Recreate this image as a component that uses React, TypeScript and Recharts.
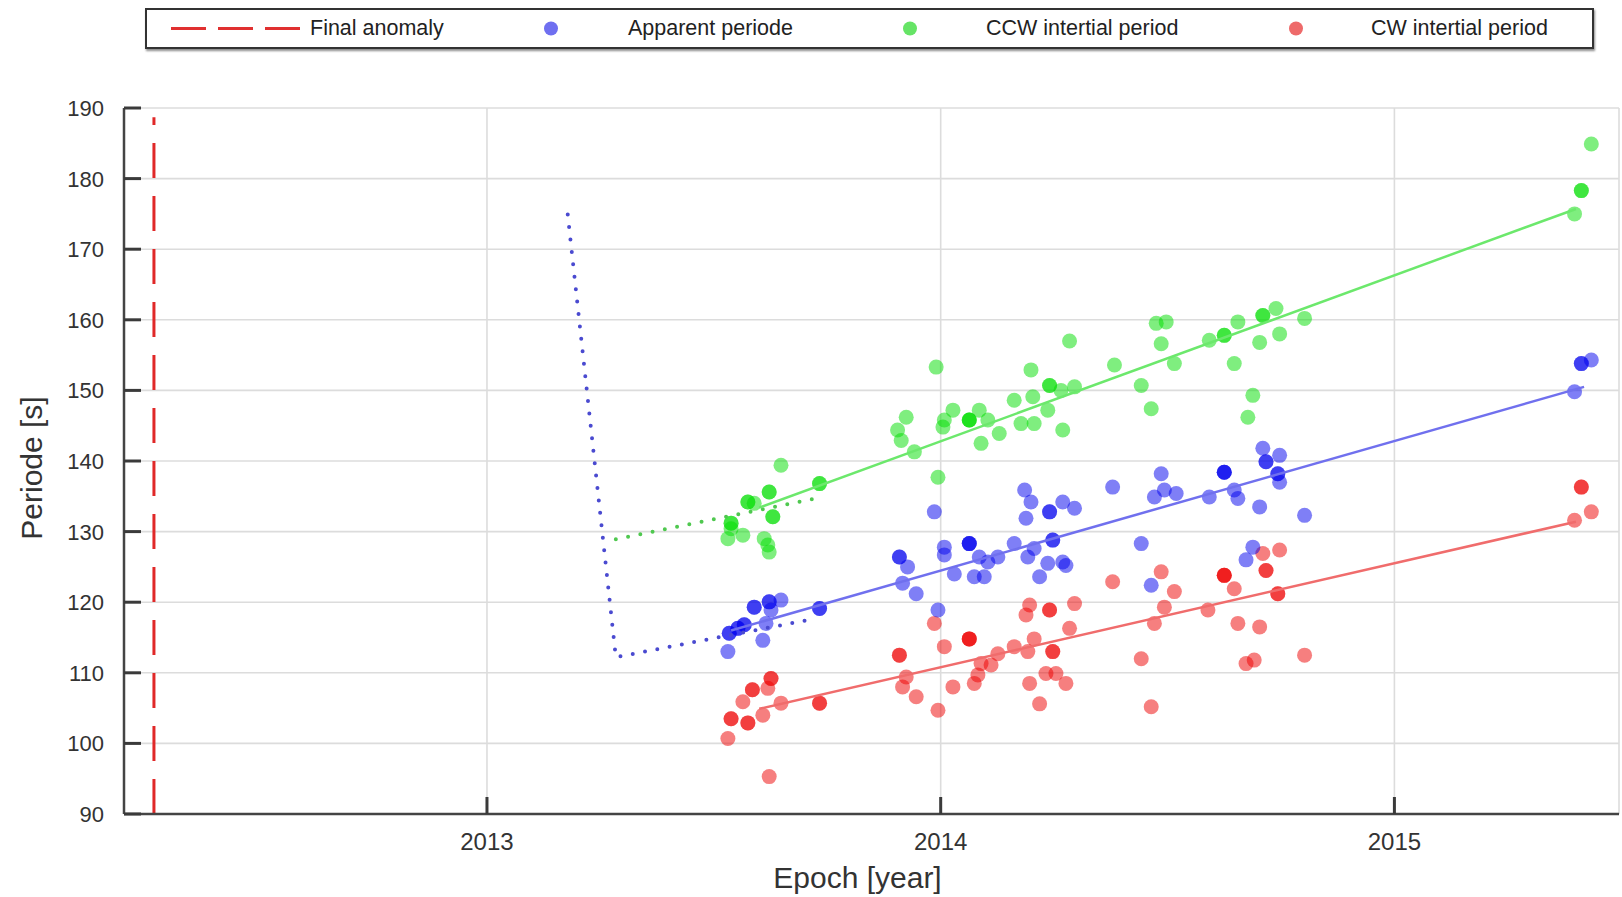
import {
  ScatterChart,
  Scatter,
  XAxis,
  YAxis,
  CartesianGrid,
  ReferenceLine,
  Legend,
  Label,
} from 'recharts';

const FONT = '"Liberation Sans", Arial, Helvetica, sans-serif';

const xTicks = [2013, 2014, 2015];
const yTicks = [90, 100, 110, 120, 130, 140, 150, 160, 170, 180, 190];

// final anomaly marker
const anomalyEpoch = 2012.266;
const anomalyTop = 188.7;

// [epoch, periode] - repeated entries are stacked observations (darker dots)
const apparentPeriode: [number, number][] = [
  [2013.648, 120.3], [2013.622, 120.05], [2013.622, 120.05], [2013.589, 119.3], [2013.589, 119.3],
  [2013.626, 118.9], [2013.733, 119.1], [2013.733, 119.1], [2013.567, 116.8], [2013.567, 116.8],
  [2013.553, 116.3], [2013.553, 116.3], [2013.534, 115.6], [2013.534, 115.6], [2013.615, 117.0],
  [2013.608, 114.6], [2013.531, 113.0], [2013.909, 126.4], [2013.909, 126.4], [2013.927, 125.0],
  [2013.916, 122.7], [2013.946, 121.2], [2014.008, 127.8], [2014.008, 126.7], [2013.994, 118.9],
  [2014.185, 135.9], [2014.199, 134.2], [2014.379, 136.3], [2013.986, 132.8], [2014.24, 132.8],
  [2014.24, 132.8], [2014.269, 134.2], [2014.295, 133.3], [2014.188, 131.9], [2014.063, 128.3],
  [2014.063, 128.3], [2014.063, 128.3], [2014.162, 128.3], [2014.206, 127.6], [2014.247, 128.8],
  [2014.247, 128.8], [2014.085, 126.4], [2014.126, 126.4], [2014.104, 125.7], [2014.192, 126.4],
  [2014.236, 125.5], [2014.269, 125.7], [2014.276, 125.2], [2014.03, 124.0], [2014.074, 123.6],
  [2014.096, 123.6], [2014.218, 123.6], [2014.486, 138.2], [2014.471, 134.9], [2014.493, 135.9],
  [2014.519, 135.4], [2014.625, 138.4], [2014.625, 138.4], [2014.625, 138.4], [2014.71, 141.8],
  [2014.747, 140.8], [2014.717, 139.9], [2014.717, 139.9], [2014.743, 138.2], [2014.743, 138.2],
  [2014.747, 137.0], [2014.592, 134.9], [2014.647, 135.9], [2014.655, 134.7], [2014.703, 133.5],
  [2014.802, 132.3], [2014.442, 128.3], [2014.464, 122.4], [2014.688, 127.8], [2014.673, 126.0],
  [2015.412, 153.8], [2015.412, 153.8], [2015.434, 154.3], [2015.397, 149.8],
];

const ccwPeriod: [number, number][] = [
  [2013.648, 139.4], [2013.733, 136.8], [2013.733, 136.8], [2013.622, 135.6], [2013.622, 135.6],
  [2013.575, 134.2], [2013.575, 134.2], [2013.589, 134.0], [2013.63, 132.1], [2013.63, 132.1],
  [2013.538, 131.2], [2013.538, 131.2], [2013.538, 130.4], [2013.531, 129.0], [2013.564, 129.5],
  [2013.611, 129.0], [2013.619, 128.1], [2013.622, 127.1], [2013.942, 141.3], [2013.994, 137.7],
  [2014.284, 157.0], [2013.99, 153.3], [2014.199, 152.9], [2014.383, 153.6], [2014.24, 150.7],
  [2014.24, 150.7], [2014.265, 150.0], [2014.295, 150.5], [2014.162, 148.6], [2014.203, 149.1],
  [2013.924, 146.2], [2014.027, 147.2], [2014.085, 147.2], [2014.008, 145.8], [2014.063, 145.8],
  [2014.063, 145.8], [2014.063, 145.8], [2014.104, 145.8], [2014.236, 147.2], [2014.177, 145.3],
  [2014.206, 145.3], [2013.905, 144.4], [2013.913, 142.9], [2014.005, 144.8], [2014.089, 142.5],
  [2014.129, 143.9], [2014.269, 144.4], [2014.475, 159.5], [2014.497, 159.7], [2014.486, 156.6],
  [2014.515, 153.8], [2014.442, 150.7], [2014.464, 147.4], [2014.592, 157.1], [2014.625, 157.8],
  [2014.625, 157.8], [2014.655, 159.7], [2014.71, 160.6], [2014.71, 160.6], [2014.739, 161.6],
  [2014.802, 160.2], [2014.703, 156.8], [2014.747, 158.0], [2014.647, 153.8], [2014.688, 149.3],
  [2014.677, 146.2], [2015.434, 184.9], [2015.412, 178.3], [2015.412, 178.3], [2015.397, 175.0],
];

const cwPeriod: [number, number][] = [
  [2013.626, 109.2], [2013.626, 109.2], [2013.585, 107.6], [2013.585, 107.6], [2013.619, 107.8],
  [2013.564, 105.9], [2013.648, 105.7], [2013.733, 105.7], [2013.733, 105.7], [2013.538, 103.5],
  [2013.538, 103.5], [2013.575, 102.9], [2013.575, 102.9], [2013.608, 104.0], [2013.531, 100.7],
  [2013.622, 95.3], [2013.909, 112.5], [2013.909, 112.5], [2013.924, 109.4], [2013.916, 108.0],
  [2013.946, 106.6], [2013.986, 117.0], [2014.008, 113.7], [2013.994, 104.7], [2014.063, 114.8],
  [2014.063, 114.8], [2014.063, 114.8], [2014.196, 119.6], [2014.188, 118.2], [2014.24, 118.9],
  [2014.24, 118.9], [2014.295, 119.8], [2014.379, 122.9], [2014.284, 116.3], [2014.206, 114.8],
  [2014.162, 113.7], [2014.192, 113.0], [2014.247, 113.0], [2014.247, 113.0], [2014.126, 112.7],
  [2014.089, 111.3], [2014.111, 111.1], [2014.082, 109.7], [2014.074, 108.5], [2014.027, 108.0],
  [2014.196, 108.5], [2014.232, 109.9], [2014.254, 109.9], [2014.276, 108.5], [2014.218, 105.6],
  [2014.486, 124.3], [2014.515, 121.5], [2014.493, 119.3], [2014.471, 117.0], [2014.442, 112.0],
  [2014.464, 105.2], [2014.589, 118.9], [2014.625, 123.8], [2014.625, 123.8], [2014.625, 123.8],
  [2014.647, 121.9], [2014.71, 126.9], [2014.747, 127.4], [2014.717, 124.5], [2014.717, 124.5],
  [2014.743, 121.2], [2014.743, 121.2], [2014.655, 117.0], [2014.703, 116.5], [2014.673, 111.3],
  [2014.691, 111.8], [2014.802, 112.5], [2015.412, 136.3], [2015.412, 136.3], [2015.434, 132.8],
  [2015.397, 131.6],
];

// fitted trends
const apparentFit: [number, number][] = [[2013.538, 116.0], [2015.418, 150.5]];
const ccwFit: [number, number][] = [[2013.6, 133.4], [2015.4, 175.7]];
const cwFit: [number, number][] = [[2013.6, 104.9], [2015.4, 131.4]];

// dotted early branches
const apparentDotted: [number, number][] = [[2013.178, 174.9], [2013.284, 112.2], [2013.725, 117.7]];
const ccwDotted: [number, number][] = [[2013.284, 128.9], [2013.733, 134.8]];

const pts = (a: [number, number][]) => a.map(([x, y]) => ({ x, y }));

const dot = (color: string) => (props: any) =>
  <circle cx={props.cx} cy={props.cy} r={7.5} fill={color} fillOpacity={0.5} />;

const noDot = () => <g />;

const TICK_GAP_Y = 20;
const TICK_GAP_X = 19;
const TICK_LEN = 17;

function YTick(props: any) {
  const { x, y, payload } = props;
  const ax = x + TICK_GAP_Y;
  return (
    <g>
      <line x1={ax} x2={ax + TICK_LEN} y1={y} y2={y} stroke="#3a3a3a" strokeWidth={3} />
      <text x={x} y={y} dy="0.36em" textAnchor="end" fontFamily={FONT} fontSize={22} fill="#333">
        {payload.value}
      </text>
    </g>
  );
}

function XTick(props: any) {
  const { x, y, payload } = props;
  const ay = y - TICK_GAP_X;
  return (
    <g>
      <line x1={x} x2={x} y1={ay} y2={ay - TICK_LEN} stroke="#3a3a3a" strokeWidth={3} />
      <text x={x} y={y} dy="0.72em" textAnchor="middle" fontFamily={FONT} fontSize={24} fill="#333">
        {payload.value}
      </text>
    </g>
  );
}

const legendItems = [
  { label: 'Apparent periode', color: '#6f6ff0', dotX: 404, textX: 481 },
  { label: 'CCW intertial period', color: '#66e466', dotX: 763, textX: 839 },
  { label: 'CW intertial period', color: '#ee6a6a', dotX: 1149, textX: 1224 },
];

function LegendBox() {
  return (
    <div
      style={{
        position: 'relative',
        width: 1449,
        height: 41,
        boxSizing: 'border-box',
        border: '2px solid #333',
        background: '#fff',
        boxShadow: '1px 2px 2px rgba(0,0,0,0.45)',
        fontFamily: FONT,
        fontSize: 21.5,
        color: '#222',
      }}
    >
      <svg style={{ position: 'absolute', left: 24, top: 0 }} width={132} height={37}>
        <line x1={0} x2={129} y1={18.5} y2={18.5} stroke="#e03030" strokeWidth={3} strokeDasharray="35 12" />
      </svg>
      <span style={{ position: 'absolute', left: 163, top: 0, lineHeight: '37px', whiteSpace: 'nowrap' }}>
        Final anomaly
      </span>
      {legendItems.map((it) => (
        <div key={it.label}>
          <svg style={{ position: 'absolute', left: it.dotX - 8, top: 10 }} width={16} height={17}>
            <circle cx={8} cy={8.5} r={7} fill={it.color} />
          </svg>
          <span style={{ position: 'absolute', left: it.textX, top: 0, lineHeight: '37px', whiteSpace: 'nowrap' }}>
            {it.label}
          </span>
        </div>
      ))}
    </div>
  );
}

export default function App() {
  return (
    <div style={{ position: 'absolute', left: 0, top: 0, background: '#fff' }}>
      <ScatterChart width={1622} height={897} margin={{ top: 108, right: 3, bottom: 0, left: 0 }}>
        <CartesianGrid stroke="#dcdcdc" strokeWidth={1.6} />
        <XAxis
          type="number"
          dataKey="x"
          domain={[2012.2, 2015.495]}
          ticks={xTicks}
          interval={0}
          height={83}
          tickSize={0}
          tickMargin={TICK_GAP_X}
          tickLine={false}
          tick={XTick}
          axisLine={{ stroke: '#444', strokeWidth: 2.5 }}
          allowDataOverflow
        >
          <Label
            content={(p: any) => {
              const vb = p.viewBox;
              return (
                <text
                  x={vb.x + vb.width / 2 - 14}
                  y={vb.y + 63}
                  textAnchor="middle"
                  dominantBaseline="central"
                  fontFamily={FONT}
                  fontSize={30}
                  fill="#333"
                >
                  Epoch [year]
                </text>
              );
            }}
          />
        </XAxis>
        <YAxis
          type="number"
          dataKey="y"
          domain={[90, 190]}
          ticks={yTicks}
          interval={0}
          width={124}
          tickSize={0}
          tickMargin={TICK_GAP_Y}
          tickLine={false}
          tick={YTick}
          axisLine={{ stroke: '#444', strokeWidth: 2.5 }}
          allowDataOverflow
        >
          <Label
            content={(p: any) => {
              const vb = p.viewBox;
              const cx = vb.x + 31;
              const cy = vb.y + vb.height / 2 + 7;
              return (
                <text
                  x={cx}
                  y={cy}
                  transform={`rotate(-90 ${cx} ${cy})`}
                  textAnchor="middle"
                  dominantBaseline="central"
                  fontFamily={FONT}
                  fontSize={30}
                  fill="#333"
                >
                  Periode [s]
                </text>
              );
            }}
          />
        </YAxis>
        <Legend
          layout="horizontal"
          verticalAlign="middle"
          align="center"
          wrapperStyle={{ top: 8, left: 145, width: 1449, height: 41 }}
          content={() => <LegendBox />}
        />
        <ReferenceLine
          segment={[{ x: anomalyEpoch, y: 90 }, { x: anomalyEpoch, y: anomalyTop }]}
          stroke="#e02828"
          strokeWidth={3}
          strokeDasharray="35 18"
          ifOverflow="visible"
        />
        <Scatter name="CW intertial period" data={pts(cwPeriod)} shape={dot('#ee0000')} isAnimationActive={false} />
        <Scatter name="Apparent periode" data={pts(apparentPeriode)} shape={dot('#0000ee')} isAnimationActive={false} />
        <Scatter name="CCW intertial period" data={pts(ccwPeriod)} shape={dot('#00dd00')} isAnimationActive={false} />
        <Scatter
          data={pts(apparentDotted)}
          shape={noDot}
          line={{ stroke: '#4a4ad0', strokeWidth: 4, strokeDasharray: '0 12.5', strokeLinecap: 'round' }}
          legendType="none"
          isAnimationActive={false}
        />
        <Scatter
          data={pts(ccwDotted)}
          shape={noDot}
          line={{ stroke: '#4fc84f', strokeWidth: 4, strokeDasharray: '0 12.5', strokeLinecap: 'round' }}
          legendType="none"
          isAnimationActive={false}
        />
        <Scatter data={pts(cwFit)} shape={noDot} line={{ stroke: '#f06c6c', strokeWidth: 2.5 }} legendType="none" isAnimationActive={false} />
        <Scatter data={pts(apparentFit)} shape={noDot} line={{ stroke: '#7070ee', strokeWidth: 2.5 }} legendType="none" isAnimationActive={false} />
        <Scatter data={pts(ccwFit)} shape={noDot} line={{ stroke: '#6ce86c', strokeWidth: 2.5 }} legendType="none" isAnimationActive={false} />
      </ScatterChart>
    </div>
  );
}
